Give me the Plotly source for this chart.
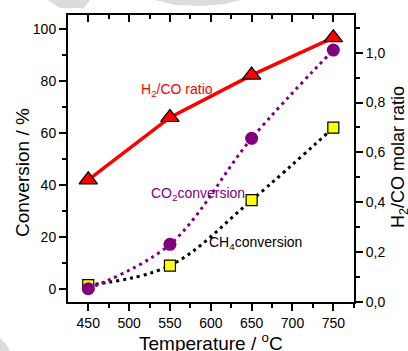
import plotly.graph_objects as go

temperature = [450, 550, 650, 750]
co2_conversion = [0.0, 17.1, 57.9, 91.9]
ch4_conversion = [1.4, 8.9, 34.1, 62.0]
h2co_ratio = [0.49, 0.74, 0.91, 1.06]

FONT = "Arial, Liberation Sans, sans-serif"
W, H = 408, 351
L, R, T, B = 68, 54, 15, 49
pw, ph = W - L - R, H - T - B


def px2paper(px, py):
    return (px - L) / pw, (H - B - py) / ph


fig = go.Figure()

# lines
fig.add_trace(go.Scatter(x=temperature, y=ch4_conversion, mode="lines",
                         line=dict(color="black", width=3, dash="3px,4px", shape="spline", smoothing=1),
                         showlegend=False, hoverinfo="skip"))
fig.add_trace(go.Scatter(x=temperature, y=co2_conversion, mode="lines",
                         line=dict(color="#800080", width=3, dash="3px,4px", shape="spline", smoothing=1),
                         showlegend=False, hoverinfo="skip"))
fig.add_trace(go.Scatter(x=temperature, y=h2co_ratio, mode="lines", yaxis="y2",
                         line=dict(color="#ff0000", width=3.5),
                         showlegend=False, hoverinfo="skip"))
# markers
fig.add_trace(go.Scatter(x=temperature, y=ch4_conversion, mode="markers",
                         marker=dict(symbol="square", size=11, color="#ffff00",
                                     line=dict(color="black", width=1.2)),
                         showlegend=False))
fig.add_trace(go.Scatter(x=temperature, y=co2_conversion, mode="markers",
                         marker=dict(symbol="circle", size=13, color="#800080",
                                     line=dict(width=0)),
                         showlegend=False))
fig.add_trace(go.Scatter(x=temperature, y=h2co_ratio, mode="markers", yaxis="y2",
                         marker=dict(symbol="triangle-up", size=16, color="#ff0000",
                                     line=dict(color="black", width=1.2)),
                         showlegend=False))

axis_common = dict(showgrid=False, zeroline=False, showline=True, linecolor="black",
                   linewidth=2, tickcolor="black", tickwidth=1.5, ticklen=7,
                   automargin=False)
tickfont = dict(family=FONT, size=14, color="black")

fig.update_layout(
    width=W, height=H,
    margin=dict(l=L, r=R, t=T, b=B, autoexpand=False),
    paper_bgcolor="white", plot_bgcolor="white",
    separators=",.",
    font=dict(family=FONT, color="black"),
    xaxis=dict(range=[425.2, 775.3], tick0=450, dtick=50, ticks="outside", tickfont=tickfont,
               minor=dict(dtick=25, tick0=450, ticks="outside", ticklen=4, tickwidth=1.5, tickcolor="black"),
               **axis_common),
    xaxis2=dict(range=[425.2, 775.3], overlaying="x", side="top", tick0=450, dtick=50,
                ticks="inside", showticklabels=False,
                minor=dict(dtick=25, tick0=450, ticks="inside", ticklen=4, tickwidth=1.5, tickcolor="black"),
                **axis_common),
    yaxis=dict(range=[-5.1, 105.4], tick0=0, dtick=20, ticks="outside", tickfont=tickfont,
               minor=dict(dtick=10, tick0=0, ticks="outside", ticklen=4, tickwidth=1.5, tickcolor="black"),
               **axis_common),
    yaxis2=dict(range=[0, 1.151], overlaying="y", side="right", tick0=0, dtick=0.2,
                tickformat=".1f", ticks="outside", tickfont=tickfont,
                minor=dict(dtick=0.1, tick0=0, ticks="outside", ticklen=4, tickwidth=1.5, tickcolor="black"),
                **axis_common),
)

# dummy trace so the top axis is drawn
fig.add_trace(go.Scatter(x=[temperature[0]], y=[co2_conversion[0]], xaxis="x2", mode="markers",
                         marker=dict(opacity=0), showlegend=False, hoverinfo="skip"))

# axis titles as annotations
titles = [
    ("Temperature / <sup>o</sup>C", 211, 342, 0, 19),
    ("Conversion / %", 23, 173, -90, 19),
    ("H<sub>2</sub>/CO molar ratio", 399, 157, -90, 18),
]
for text, px, py, ang, sz in titles:
    xp, yp = px2paper(px, py)
    fig.add_annotation(text=text, x=xp, y=yp, xref="paper", yref="paper", textangle=ang,
                       xanchor="center", yanchor="middle", showarrow=False,
                       font=dict(family=FONT, size=sz, color="black"))

# series labels
labels = [
    ("H<sub>2</sub>/CO ratio", "#ff0000", 177, 79),
    ("CO<sub>2</sub>conversion", "#800080", 149, 194),
    ("CH<sub>4</sub>conversion", "black", 256, 254),
]
for text, color, px, py in labels:
    xp, yp = px2paper(px, py)
    fig.add_annotation(text=text, x=xp, y=yp, xref="paper", yref="paper",
                       showarrow=False, font=dict(family=FONT, size=14, color=color))

# faint watermark fragments
def poly(pts):
    coords = [px2paper(a, b) for a, b in pts]
    return "M " + " L ".join(f"{x:.4f},{y:.4f}" for x, y in coords) + " Z"

for pts in [
    [(48, 0), (90, 0), (84, 8), (60, 8)],
    [(155, 0), (240, 0), (225, 4), (200, 6), (175, 5)],
    [(0, 338), (6, 344), (10, 351), (0, 351)],
]:
    fig.add_shape(type="path", path=poly(pts), xref="paper", yref="paper",
                  fillcolor="#dcdcdc", line=dict(width=0), layer="below")

fig.write_html("out.html", config={"displayModeBar": False},
               post_script="document.body.style.margin='0';")
